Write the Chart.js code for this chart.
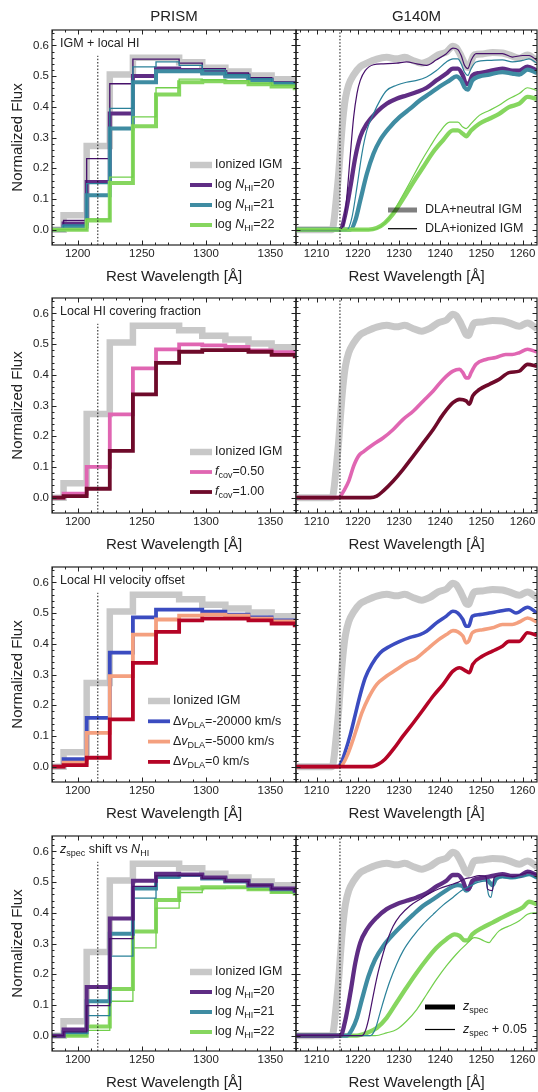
<!DOCTYPE html>
<html>
<head>
<meta charset="utf-8">
<script src="https://cdn.jsdelivr.net/npm/chart.js@4.4.1/dist/chart.umd.min.js"></script>
<style>
  html, body { margin: 0; padding: 0; background: #fff; overflow: hidden; }
  #fig { position: relative; width: 538px; height: 1092px; }
  canvas { position: absolute; }
</style>
</head>
<body>
<div id="fig"></div>
<script>
// ---- PRISM (binned) ----
const prismWave = [1162, 1180, 1198, 1216, 1234, 1252, 1270, 1288, 1306, 1324, 1342, 1360, 1378];
const prismTicks = [1200, 1250, 1300, 1350];
const prismIonized = [0, 0, 0.047, 0.272, 0.505, 0.56, 0.56, 0.545, 0.527, 0.515, 0.502, 0.49, 0.48];

const n20Neutral = [0, 0, 0.02, 0.155, 0.378, 0.50, 0.525, 0.52, 0.513, 0.502, 0.489, 0.477, 0.47];
const n20Ionized = [0, 0, 0.03, 0.231, 0.475, 0.555, 0.555, 0.542, 0.524, 0.51, 0.495, 0.48, 0.473];
const n21Neutral = [0, 0, 0.01, 0.112, 0.329, 0.48, 0.516, 0.516, 0.508, 0.499, 0.486, 0.475, 0.468];
const n21Ionized = [0, 0, 0.015, 0.15, 0.395, 0.53, 0.546, 0.535, 0.52, 0.505, 0.491, 0.478, 0.47];
const n22Neutral = [0, 0, 0, 0.03, 0.152, 0.337, 0.44, 0.48, 0.483, 0.48, 0.473, 0.466, 0.46];
const n22Ionized = [0, 0, 0, 0.035, 0.171, 0.367, 0.462, 0.49, 0.488, 0.485, 0.477, 0.47, 0.463];

const fcov050 = [0, 0, 0.013, 0.10, 0.271, 0.421, 0.483, 0.499, 0.496, 0.491, 0.479, 0.474, 0.468];
const fcov100 = [0, 0, 0.005, 0.029, 0.152, 0.336, 0.439, 0.475, 0.48, 0.48, 0.475, 0.465, 0.46];

const dv20000 = [0, 0, 0.024, 0.159, 0.371, 0.486, 0.511, 0.511, 0.505, 0.495, 0.486, 0.476, 0.47];
const dv5000 = [0, 0, 0.013, 0.11, 0.295, 0.43, 0.479, 0.492, 0.495, 0.492, 0.482, 0.473, 0.467];
const dv0 = [0, 0, 0.005, 0.029, 0.154, 0.338, 0.439, 0.476, 0.482, 0.482, 0.476, 0.466, 0.46];

const z20 = [0, 0, 0.02, 0.158, 0.381, 0.504, 0.527, 0.525, 0.515, 0.504, 0.49, 0.479, 0.472];
const z20Shift = [0, 0, 0.012, 0.098, 0.316, 0.486, 0.52, 0.522, 0.512, 0.502, 0.49, 0.478, 0.47];
const z21 = [0, 0, 0.011, 0.112, 0.332, 0.479, 0.518, 0.523, 0.512, 0.502, 0.488, 0.477, 0.47];
const z21Shift = [0, 0, 0.008, 0.065, 0.259, 0.448, 0.513, 0.52, 0.51, 0.5, 0.487, 0.476, 0.469];
const z22 = [0, 0, 0, 0.03, 0.152, 0.339, 0.442, 0.479, 0.483, 0.483, 0.477, 0.468, 0.462];
const z22Shift = [0, 0, 0, 0.017, 0.112, 0.286, 0.415, 0.466, 0.479, 0.481, 0.476, 0.467, 0.461];

// ---- G140M (wavelength, flux) ----
const g140Ticks = [1210, 1220, 1230, 1240, 1250, 1260];
const g140Ionized = [[1205,0],[1213.8,0],[1214.2,0.027],[1214.7,0.09],[1215.4,0.19],[1215.8,0.266],[1216.4,0.363],[1217,0.428],[1217.8,0.472],[1219,0.504],[1220.6,0.531],[1222.2,0.542],[1224.6,0.555],[1227,0.561],[1229.4,0.556],[1231.4,0.561],[1233.5,0.55],[1235.5,0.542],[1237.5,0.551],[1239.5,0.569],[1241.5,0.578],[1243.1,0.597],[1243.9,0.592],[1244.7,0.575],[1245.5,0.553],[1246.3,0.531],[1246.9,0.528],[1247.5,0.548],[1248.3,0.569],[1250.3,0.572],[1252.7,0.577],[1255.1,0.575],[1256.7,0.569],[1259.2,0.558],[1261.2,0.569],[1263.5,0.55]];

const g140N20Neutral = [[1205,0],[1215.8,0],[1217,0.052],[1218.2,0.139],[1219.4,0.236],[1220.6,0.302],[1222.2,0.345],[1224.6,0.383],[1227,0.41],[1229.4,0.426],[1231.8,0.437],[1234.3,0.448],[1236.7,0.462],[1239.1,0.486],[1241.5,0.508],[1243.1,0.524],[1244.3,0.524],[1245.5,0.502],[1246.3,0.475],[1246.9,0.475],[1247.8,0.502],[1249.5,0.51],[1251.9,0.516],[1255.1,0.524],[1257.5,0.518],[1259.2,0.518],[1261.2,0.531],[1263.5,0.518]];
const g140N20Ionized = [[1205,0],[1215.4,0],[1216.6,0.02],[1217.4,0.117],[1218.2,0.247],[1219,0.367],[1219.8,0.443],[1220.6,0.486],[1221.8,0.518],[1223.8,0.537],[1226.2,0.54],[1229.4,0.542],[1231.8,0.546],[1234.3,0.54],[1236.7,0.535],[1239.1,0.553],[1241.5,0.573],[1243.1,0.591],[1244.3,0.586],[1245.1,0.567],[1245.9,0.535],[1246.7,0.524],[1247.5,0.551],[1248.7,0.573],[1251.9,0.573],[1255.1,0.573],[1257.5,0.562],[1260,0.567],[1261.6,0.567],[1263.5,0.551]];
const g140N21Neutral = [[1205,0],[1218.2,0],[1219.4,0.03],[1220.6,0.095],[1222.2,0.182],[1223.8,0.247],[1225.4,0.291],[1227.8,0.334],[1230.2,0.367],[1232.7,0.394],[1235.1,0.421],[1237.5,0.443],[1239.9,0.466],[1242.3,0.486],[1243.9,0.499],[1245.1,0.486],[1245.9,0.464],[1246.7,0.456],[1247.8,0.486],[1249.5,0.499],[1251.9,0.505],[1255.1,0.513],[1257.5,0.508],[1259.2,0.505],[1261.2,0.521],[1263.5,0.51]];
const g140N21Ionized = [[1205,0],[1217.4,0],[1218.6,0.041],[1219.8,0.139],[1221,0.247],[1222.2,0.323],[1223.8,0.377],[1225.4,0.421],[1227,0.453],[1229.4,0.47],[1231.8,0.48],[1234.3,0.486],[1236.7,0.497],[1239.1,0.518],[1241.5,0.546],[1243.1,0.556],[1244.3,0.556],[1245.1,0.54],[1245.9,0.513],[1246.7,0.502],[1247.5,0.524],[1248.7,0.546],[1251.9,0.551],[1255.1,0.553],[1257.5,0.546],[1260,0.551],[1261.6,0.556],[1263.5,0.542]];
const g140N22Neutral = [[1205,0],[1222.6,0],[1224.6,0.005],[1226.6,0.022],[1228.6,0.052],[1231,0.1],[1233.5,0.155],[1235.9,0.204],[1238.3,0.253],[1240.7,0.291],[1243.1,0.323],[1244.3,0.323],[1245.5,0.312],[1246.3,0.304],[1247.5,0.323],[1249.5,0.345],[1251.9,0.361],[1254.3,0.377],[1256.7,0.399],[1259.2,0.41],[1261.2,0.432],[1263.5,0.426]];
const g140N22Ionized = [[1205,0],[1223.4,0],[1225.4,0.009],[1227.8,0.041],[1230.2,0.095],[1232.7,0.155],[1235.1,0.215],[1237.5,0.269],[1239.9,0.318],[1242.3,0.35],[1244.3,0.35],[1245.5,0.334],[1246.3,0.329],[1247.5,0.345],[1249.5,0.372],[1251.9,0.388],[1254.3,0.405],[1256.7,0.426],[1259.2,0.443],[1261.2,0.462],[1263.5,0.453]];

const g140Fcov050 = [[1205,0],[1215.4,0],[1215.8,0.005],[1216.6,0.022],[1217.8,0.054],[1219,0.103],[1220.2,0.136],[1221.4,0.15],[1223.8,0.174],[1226.2,0.195],[1228.6,0.222],[1231,0.255],[1233.5,0.282],[1235.9,0.315],[1238.3,0.347],[1240.7,0.385],[1243.1,0.412],[1244.7,0.418],[1245.5,0.407],[1246.3,0.39],[1246.9,0.39],[1247.5,0.407],[1248.7,0.434],[1251.1,0.45],[1253.5,0.456],[1255.9,0.466],[1257.5,0.466],[1259.2,0.472],[1261.2,0.483],[1263.5,0.474]];
const g140Fcov100 = [[1205,0],[1223,0],[1224.6,0.005],[1226.2,0.022],[1228.6,0.054],[1231,0.092],[1233.5,0.136],[1235.9,0.179],[1238.3,0.222],[1240.7,0.271],[1243.1,0.309],[1244.7,0.32],[1246.3,0.315],[1247.1,0.304],[1247.9,0.331],[1249.5,0.352],[1251.9,0.369],[1254.3,0.385],[1256.7,0.407],[1259.2,0.412],[1261.2,0.434],[1263.5,0.428]];

const g140Dv20000 = [[1205,0],[1215,0],[1215.8,0.008],[1217,0.051],[1218.2,0.105],[1219.4,0.17],[1220.6,0.235],[1221.8,0.289],[1223.4,0.333],[1225.4,0.37],[1227.8,0.392],[1230.2,0.408],[1232.7,0.421],[1235.1,0.43],[1236.7,0.441],[1239.1,0.468],[1241.5,0.49],[1243.1,0.506],[1244.3,0.5],[1245.5,0.479],[1246.3,0.457],[1246.9,0.457],[1247.8,0.49],[1249.5,0.495],[1251.9,0.5],[1254.3,0.506],[1256.7,0.511],[1258.4,0.5],[1261.2,0.519],[1263.5,0.5]];
const g140Dv5000 = [[1205,0],[1215.6,0],[1216.2,0.005],[1217.4,0.035],[1218.6,0.078],[1219.8,0.127],[1221,0.176],[1222.6,0.224],[1224.6,0.268],[1227,0.295],[1229.4,0.316],[1231.8,0.338],[1234.3,0.354],[1236.7,0.381],[1239.1,0.408],[1241.5,0.43],[1243.1,0.443],[1244.3,0.439],[1245.5,0.425],[1246.3,0.403],[1246.9,0.408],[1247.8,0.436],[1250.3,0.446],[1252.7,0.452],[1255.1,0.463],[1257.5,0.463],[1259.2,0.471],[1261.2,0.484],[1263.5,0.471]];
const g140Dv0 = [[1205,0],[1223.4,0],[1225,0.008],[1226.6,0.024],[1228.6,0.056],[1231,0.1],[1233.5,0.143],[1235.9,0.186],[1238.3,0.23],[1240.7,0.268],[1243.1,0.311],[1244.7,0.322],[1246.3,0.311],[1247.1,0.306],[1247.9,0.333],[1250.3,0.36],[1252.7,0.376],[1255.1,0.392],[1256.7,0.408],[1259.2,0.408],[1261.2,0.436],[1263.5,0.428]];

const g140Z20 = [[1205,0],[1215.8,0],[1217,0.052],[1218.2,0.139],[1219.4,0.237],[1220.6,0.303],[1222.2,0.346],[1224.6,0.385],[1227,0.412],[1229.4,0.428],[1231.8,0.439],[1234.3,0.45],[1236.7,0.464],[1239.1,0.486],[1241.5,0.504],[1243.1,0.523],[1244.3,0.523],[1245.5,0.504],[1246.3,0.479],[1246.9,0.477],[1247.8,0.504],[1249.5,0.512],[1251.9,0.518],[1255.1,0.526],[1257.5,0.52],[1259.2,0.52],[1261.2,0.534],[1263.5,0.523]];
const g140Z20Shift = [[1205,0],[1221,0],[1221.8,0.014],[1222.6,0.052],[1223.4,0.107],[1224.2,0.161],[1225,0.21],[1226.2,0.27],[1227.4,0.319],[1228.6,0.357],[1230.2,0.39],[1232.7,0.423],[1235.1,0.444],[1237.5,0.464],[1239.9,0.479],[1242.3,0.49],[1244.3,0.499],[1245.9,0.51],[1247.5,0.515],[1249.5,0.521],[1251.1,0.518],[1251.5,0.477],[1252.7,0.472],[1253.1,0.515],[1255.1,0.523],[1257.5,0.518],[1260,0.526],[1261.6,0.532],[1263.5,0.523]];
const g140Z21 = [[1205,0],[1217.4,0],[1218.6,0.02],[1219.8,0.058],[1221,0.118],[1222.6,0.194],[1224.2,0.248],[1226.2,0.292],[1228.6,0.33],[1231,0.363],[1233.5,0.395],[1235.9,0.423],[1238.3,0.444],[1240.7,0.466],[1243.1,0.486],[1244.3,0.49],[1245.5,0.486],[1246.3,0.472],[1246.9,0.477],[1247.8,0.499],[1249.5,0.51],[1251.1,0.512],[1251.9,0.5],[1252.7,0.49],[1253.5,0.51],[1255.1,0.519],[1257.5,0.515],[1260,0.521],[1261.6,0.526],[1263.5,0.515]];
const g140Z21Shift = [[1205,0],[1223,0],[1224.2,0.02],[1225.4,0.074],[1226.6,0.129],[1227.8,0.178],[1229.4,0.232],[1231,0.276],[1233.5,0.325],[1235.9,0.363],[1238.3,0.395],[1240.7,0.425],[1243.1,0.45],[1245.1,0.472],[1247.1,0.486],[1249.1,0.499],[1251.1,0.504],[1251.7,0.461],[1252.3,0.45],[1253.1,0.504],[1255.1,0.515],[1257.5,0.512],[1260,0.519],[1261.6,0.523],[1263.5,0.512]];
const g140Z22 = [[1205,0],[1219.8,0],[1222.2,0.009],[1224.6,0.025],[1227,0.058],[1229.4,0.107],[1231.8,0.156],[1234.3,0.205],[1236.7,0.248],[1239.1,0.286],[1241.5,0.314],[1243.5,0.33],[1244.7,0.325],[1245.9,0.31],[1246.7,0.31],[1247.8,0.33],[1250.3,0.352],[1252.7,0.368],[1255.1,0.385],[1257.5,0.401],[1260,0.417],[1261.6,0.436],[1263.5,0.428]];
const g140Z22Shift = [[1205,0],[1224.2,0],[1227,0.009],[1229.4,0.02],[1231.8,0.047],[1234.3,0.085],[1236.7,0.134],[1239.1,0.183],[1241.5,0.227],[1243.9,0.265],[1246.3,0.297],[1248.3,0.319],[1249.5,0.316],[1250.7,0.308],[1251.9,0.303],[1252.7,0.316],[1254.3,0.341],[1256.7,0.357],[1259.2,0.374],[1261.2,0.395],[1263.5,0.401]];

const fluxTicks = [0, 0.1, 0.2, 0.3, 0.4, 0.5, 0.6];
const lyaWave = 1215.67;

// colours
const GRAY = '#c8c8c8';
const PURPLE = '#5f2d84', PURPLE_T = '#46106a';
const TEAL = '#3f8ca2', TEAL_T = '#2a8199';
const GREEN = '#86d65f', GREEN_T = '#72cf4c';
const PINK = '#e066b2', MAROON = '#6e0a2a';
const BLUE = '#3b4cc0', SALMON = '#f4a07f', RED = '#b40426';

const FONT = "'Liberation Sans', Arial, Helvetica, sans-serif";
Chart.defaults.font.family = FONT;
Chart.defaults.color = '#222';

const tx = t => ({ t });
const it = t => ({ t, it: true });
const sub = t => ({ t, sub: true });
const logN = n => [tx('log '), it('N'), sub('HI'), tx('=' + n)];

function drawRich(ctx, x, y, segs, size) {
  for (const s of segs) {
    const fs = s.sub ? size * 0.72 : size;
    ctx.font = (s.it ? 'italic ' : '') + fs + 'px ' + FONT;
    ctx.fillText(s.t, x, y + (s.sub ? size * 0.32 : 0));
    x += ctx.measureText(s.t).width;
  }
}

function stepSet(vals, color, width) {
  return { data: prismWave.map((x, i) => ({ x, y: vals[i] })), stepped: 'middle',
    borderColor: color, borderWidth: width, pointRadius: 0, fill: false, clip: 0 };
}
function curveSet(pairs, color, width) {
  return { data: pairs.map(([x, y]) => ({ x, y })), cubicInterpolationMode: 'monotone',
    borderColor: color, borderWidth: width, pointRadius: 0, fill: false, clip: 0,
    borderJoinStyle: 'round' };
}
function lyaSet(top) {
  return { data: [{ x: lyaWave, y: -0.05 }, { x: lyaWave, y: top }], borderColor: '#111',
    borderWidth: 1, borderDash: [1.5, 1.8], pointRadius: 0, fill: false, clip: 0 };
}

// frame, inward ticks, panel note and in-axes legend
function decor(cfg) {
  return {
    id: 'decor',
    afterDatasetsDraw(chart) {
      const { ctx, chartArea: a, scales: { x, y } } = chart;
      const steps = (s, st) => {
        const out = [];
        for (let n = Math.ceil(s.min / st - 1e-9); n <= Math.floor(s.max / st + 1e-9); n++) out.push(n * st);
        return out;
      };
      const isMajor = (s, v) => s.ticks.some(t => Math.abs(t.value - v) < 1e-6);
      ctx.save();
      ctx.strokeStyle = '#222';
      ctx.lineWidth = 1;
      ctx.beginPath();
      for (const v of steps(x, cfg.minorX)) {
        const px = Math.round(x.getPixelForValue(v)) + 0.5;
        const len = isMajor(x, v) ? 4.5 : 2.5;
        ctx.moveTo(px, a.bottom); ctx.lineTo(px, a.bottom - len);
        ctx.moveTo(px, a.top); ctx.lineTo(px, a.top + len);
      }
      for (const v of steps(y, 0.02)) {
        const py = Math.round(y.getPixelForValue(v)) + 0.5;
        const len = isMajor(y, v) ? 4.5 : 2.5;
        ctx.moveTo(a.left, py); ctx.lineTo(a.left + len, py);
        ctx.moveTo(a.right, py); ctx.lineTo(a.right - len, py);
      }
      ctx.stroke();
      ctx.lineWidth = 1.2;
      ctx.strokeRect(a.left, a.top, a.right - a.left, a.bottom - a.top);

      ctx.fillStyle = '#222';
      ctx.textBaseline = 'middle';
      ctx.textAlign = 'left';
      if (cfg.note) drawRich(ctx, a.left + 8, a.top + 14, cfg.note, 12.5);
      const lg = cfg.legend;
      if (lg) {
        lg.items.forEach((item, i) => {
          const yy = a.top + lg.y + i * lg.dy;
          ctx.beginPath();
          ctx.strokeStyle = item.color;
          ctx.lineWidth = item.width;
          ctx.moveTo(a.left + lg.x, yy);
          ctx.lineTo(a.left + lg.x + lg.len, yy);
          ctx.stroke();
          ctx.fillStyle = '#222';
          drawRich(ctx, a.left + lg.tx, yy, item.label, 12.5);
        });
      }
      ctx.restore();
    }
  };
}

const fig = document.getElementById('fig');
const canvasTops = [0, 268, 537, 806];

function panel(row, side, datasets, cfg) {
  const left = side === 'L';
  const cv = document.createElement('canvas');
  cv.width = left ? 297 : 248;
  cv.height = 290;
  cv.style.left = (left ? 0 : 290) + 'px';
  cv.style.top = canvasTops[row] + 'px';
  fig.appendChild(cv);
  const title = row === 0 ? (left ? 'PRISM' : 'G140M') : '';
  const n = datasets.length;
  datasets.forEach((d, i) => { d.order = n - i; });
  new Chart(cv, {
    type: 'line',
    data: { datasets },
    options: {
      responsive: false,
      animation: false,
      events: [],
      layout: { padding: { top: title ? 0 : 30, right: 1, left: 0, bottom: 0 } },
      plugins: {
        legend: { display: false },
        tooltip: { enabled: false },
        title: { display: !!title, text: title, fullSize: false, color: '#222',
          font: { size: 15, weight: 'normal' }, padding: { top: 8, bottom: 4 } }
      },
      scales: {
        x: {
          type: 'linear',
          min: left ? 1180 : 1205,
          max: left ? 1370 : 1263.5,
          afterBuildTicks: s => { s.ticks = (left ? prismTicks : g140Ticks).map(v => ({ value: v })); },
          afterFit: s => { s.height = 45; },
          grid: { display: false, drawTicks: false },
          border: { display: false },
          ticks: { padding: 2, autoSkip: false, maxRotation: 0, color: '#222',
            font: { size: 11.5 }, callback: v => String(v) },
          title: { display: true, text: 'Rest Wavelength [Å]', color: '#222',
            font: { size: 15 }, padding: { top: 0, bottom: 4 } }
        },
        y: {
          type: 'linear',
          min: -0.05,
          max: 0.65,
          afterBuildTicks: s => { s.ticks = fluxTicks.map(v => ({ value: v })); },
          afterFit: s => { s.width = left ? 52 : 6; },
          grid: { display: false, drawTicks: false },
          border: { display: false },
          ticks: { display: left, padding: 3, color: '#222', font: { size: 11.5 },
            callback: v => v.toFixed(1) },
          title: { display: left, text: 'Normalized Flux', color: '#222',
            font: { size: 15 }, padding: { top: 9, bottom: 0 } }
        }
      }
    },
    plugins: [decor(Object.assign({ minorX: left ? 10 : 2 }, cfg))]
  });
}

const legIon = { color: GRAY, width: 6.5, label: [tx('Ionized IGM')] };

// Row 1: IGM + local HI
panel(0, 'L', [
  stepSet(prismIonized, GRAY, 6.5),
  stepSet(n20Neutral, PURPLE, 4), stepSet(n20Ionized, PURPLE_T, 1.3),
  stepSet(n21Neutral, TEAL, 4), stepSet(n21Ionized, TEAL_T, 1.3),
  stepSet(n22Neutral, GREEN, 4), stepSet(n22Ionized, GREEN_T, 1.3),
  lyaSet(0.566)
], {
  note: [tx('IGM + local HI')],
  legend: { x: 138, len: 22, tx: 163, y: 135, dy: 20, items: [legIon,
    { color: PURPLE, width: 4, label: logN(20) },
    { color: TEAL, width: 4, label: logN(21) },
    { color: GREEN, width: 4, label: logN(22) }] }
});
panel(0, 'R', [
  curveSet(g140Ionized, GRAY, 7),
  curveSet(g140N20Neutral, PURPLE, 4.3), curveSet(g140N21Neutral, TEAL, 4.3), curveSet(g140N22Neutral, GREEN, 4.3),
  curveSet(g140N20Ionized, PURPLE_T, 1.2), curveSet(g140N21Ionized, TEAL_T, 1.2), curveSet(g140N22Ionized, GREEN_T, 1.2),
  lyaSet(0.65)
], {
  legend: { x: 92, len: 29, tx: 129, y: 180, dy: 18.7, items: [
    { color: 'rgba(0,0,0,0.5)', width: 5, label: [tx('DLA+neutral IGM')] },
    { color: '#000', width: 1.2, label: [tx('DLA+ionized IGM')] }] }
});

// Row 2: covering fraction
panel(1, 'L', [
  stepSet(prismIonized, GRAY, 6.5),
  stepSet(fcov050, PINK, 3.8), stepSet(fcov100, MAROON, 3.8),
  lyaSet(0.566)
], {
  note: [tx('Local HI covering fraction')],
  legend: { x: 138, len: 22, tx: 163, y: 154, dy: 20, items: [legIon,
    { color: PINK, width: 3.8, label: [it('f'), sub('cov'), tx('=0.50')] },
    { color: MAROON, width: 3.8, label: [it('f'), sub('cov'), tx('=1.00')] }] }
});
panel(1, 'R', [
  curveSet(g140Ionized, GRAY, 7),
  curveSet(g140Fcov050, PINK, 3.6), curveSet(g140Fcov100, MAROON, 3.6),
  lyaSet(0.65)
], {});

// Row 3: velocity offset
panel(2, 'L', [
  stepSet(prismIonized, GRAY, 6.5),
  stepSet(dv20000, BLUE, 3.8), stepSet(dv5000, SALMON, 3.8), stepSet(dv0, RED, 3.8),
  lyaSet(0.566)
], {
  note: [tx('Local HI velocity offset')],
  legend: { x: 96, len: 22, tx: 121, y: 134, dy: 20.3, items: [legIon,
    { color: BLUE, width: 3.8, label: [tx('\u0394'), it('v'), sub('DLA'), tx('=-20000 km/s')] },
    { color: SALMON, width: 3.8, label: [tx('\u0394'), it('v'), sub('DLA'), tx('=-5000 km/s')] },
    { color: RED, width: 3.8, label: [tx('\u0394'), it('v'), sub('DLA'), tx('=0 km/s')] }] }
});
panel(2, 'R', [
  curveSet(g140Ionized, GRAY, 7),
  curveSet(g140Dv20000, BLUE, 3.6), curveSet(g140Dv5000, SALMON, 3.6), curveSet(g140Dv0, RED, 3.6),
  lyaSet(0.65)
], {});

// Row 4: z_spec shift
panel(3, 'L', [
  stepSet(prismIonized, GRAY, 6.5),
  stepSet(z22, GREEN, 4), stepSet(z22Shift, GREEN_T, 1.3),
  stepSet(z21, TEAL, 4), stepSet(z21Shift, TEAL_T, 1.3),
  stepSet(z20, PURPLE, 4), stepSet(z20Shift, PURPLE_T, 1.3),
  lyaSet(0.566)
], {
  note: [it('z'), sub('spec'), tx(' shift vs '), it('N'), sub('HI')],
  legend: { x: 138, len: 22, tx: 163, y: 136, dy: 20, items: [legIon,
    { color: PURPLE, width: 4, label: logN(20) },
    { color: TEAL, width: 4, label: logN(21) },
    { color: GREEN, width: 4, label: logN(22) }] }
});
panel(3, 'R', [
  curveSet(g140Ionized, GRAY, 7),
  curveSet(g140Z22, GREEN, 4.3), curveSet(g140Z21, TEAL, 4.3), curveSet(g140Z20, PURPLE, 4.3),
  curveSet(g140Z22Shift, GREEN_T, 1.2), curveSet(g140Z21Shift, TEAL_T, 1.2), curveSet(g140Z20Shift, PURPLE_T, 1.2),
  lyaSet(0.65)
], {
  legend: { x: 129, len: 30, tx: 167, y: 171, dy: 22.5, items: [
    { color: '#000', width: 5, label: [it('z'), sub('spec')] },
    { color: '#000', width: 1.2, label: [it('z'), sub('spec'), tx(' + 0.05')] }] }
});
</script>
</body>
</html>
